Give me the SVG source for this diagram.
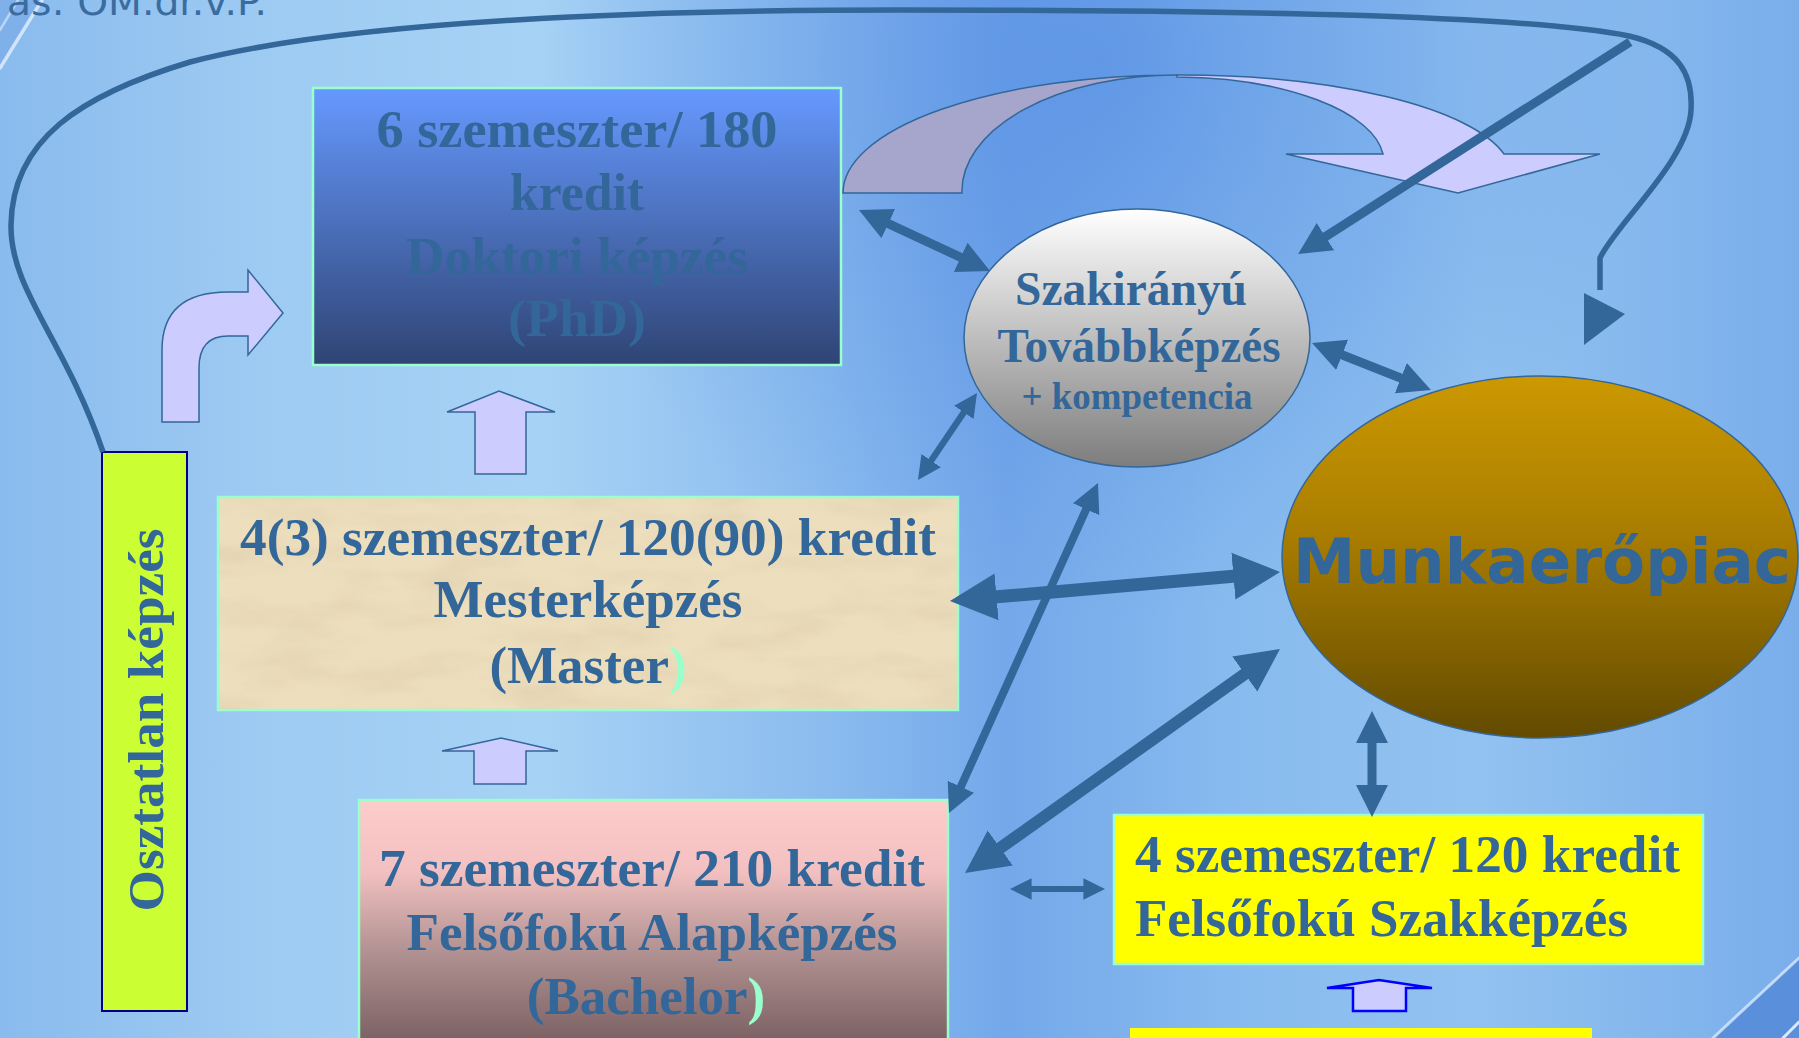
<svg xmlns="http://www.w3.org/2000/svg" width="1799" height="1038" viewBox="0 0 1799 1038">
<defs>
<linearGradient id="bg" x1="0" y1="0" x2="1" y2="0">
<stop offset="0" stop-color="#8abbee"/>
<stop offset="0.15" stop-color="#9ecbf2"/>
<stop offset="0.3" stop-color="#a6d2f5"/>
<stop offset="0.45" stop-color="#8dbdef"/>
<stop offset="0.56" stop-color="#74a8ea"/>
<stop offset="0.68" stop-color="#87baee"/>
<stop offset="0.82" stop-color="#92c2f0"/>
<stop offset="1" stop-color="#7aaeeb"/>
</linearGradient>
<radialGradient id="dark" cx="1100" cy="60" r="560" gradientUnits="userSpaceOnUse">
<stop offset="0" stop-color="#4f88e2" stop-opacity="0.6"/>
<stop offset="1" stop-color="#4f88e2" stop-opacity="0"/>
</radialGradient>
<linearGradient id="gPhd" x1="0" y1="0" x2="0" y2="1">
<stop offset="0" stop-color="#6699ff"/>
<stop offset="1" stop-color="#2f4474"/>
</linearGradient>
<linearGradient id="gBa" x1="0" y1="800" x2="0" y2="1040" gradientUnits="userSpaceOnUse">
<stop offset="0" stop-color="#ffcccc"/>
<stop offset="0.3" stop-color="#f2c0c0"/>
<stop offset="0.62" stop-color="#b39393"/>
<stop offset="1" stop-color="#7c6264"/>
</linearGradient>
<linearGradient id="gSz" x1="0" y1="0" x2="0" y2="1">
<stop offset="0" stop-color="#ffffff"/>
<stop offset="1" stop-color="#7d7d7d"/>
</linearGradient>
<linearGradient id="gMu" x1="0" y1="0" x2="0" y2="1">
<stop offset="0" stop-color="#cc9900"/>
<stop offset="0.45" stop-color="#a87c00"/>
<stop offset="1" stop-color="#624a00"/>
</linearGradient>
<filter id="parch" x="0" y="0" width="100%" height="100%">
<feTurbulence type="fractalNoise" baseFrequency="0.012 0.035" numOctaves="4" seed="7" result="n"/>
<feColorMatrix in="n" type="matrix" values="0 0 0 0 0.72  0 0 0 0 0.6  0 0 0 0 0.42  1.1 0 0 0 -0.42" result="c"/>
<feComposite in="c" in2="SourceGraphic" operator="in"/>
</filter>
<marker id="ah" viewBox="0 -2 4 4" markerWidth="4" markerHeight="4" refX="0.2" refY="0" orient="auto-start-reverse" markerUnits="strokeWidth">
<path d="M0,-1.8 L3.6,0 L0,1.8 Z" fill="#336699"/>
</marker>
<style>
.t{font-family:"Liberation Serif","Times New Roman",serif;font-weight:bold;fill:#336699;}
.box{stroke:#99ffcc;stroke-width:2.5;}
.blk{fill:#ccccff;stroke:#336699;stroke-width:1.5;stroke-linejoin:miter;}
.ar{fill:none;stroke:#336699;marker-start:url(#ah);marker-end:url(#ah);}
.mint{fill:#99ffcc;}
</style>
</defs>

<rect x="0" y="0" width="1799" height="1038" fill="url(#bg)"/>
<rect x="0" y="0" width="1799" height="1038" fill="url(#dark)"/>
<g id="decor" stroke-linecap="round">
<polygon points="0,0 42,0 0,68" fill="#7fb0ea"/>
<line x1="0" y1="68" x2="42" y2="0" stroke="#e8f4ff" stroke-opacity="0.75" stroke-width="3.5"/>
<line x1="0" y1="30" x2="18" y2="0" stroke="#e8f4ff" stroke-opacity="0.55" stroke-width="2.5"/>
<polygon points="1713,1038 1799,958 1799,1038" fill="#5a8fdc"/>
<line x1="1713" y1="1038" x2="1799" y2="958" stroke="#e8f4ff" stroke-opacity="0.7" stroke-width="3"/>
<line x1="1783" y1="1038" x2="1799" y2="1022" stroke="#ffffff" stroke-opacity="0.8" stroke-width="3"/>
</g>
<text x="7" y="15" font-family="DejaVu Sans, Verdana, sans-serif" font-size="38" fill="#3b6c9f" textLength="260" lengthAdjust="spacingAndGlyphs">as: OM.dr.v.P.</text>

<g id="phd">
<rect x="313" y="88" width="528" height="277" fill="url(#gPhd)" class="box"/>
<text class="t" font-size="53" text-anchor="middle" x="577" y="147" textLength="401" lengthAdjust="spacingAndGlyphs">6 szemeszter/ 180</text>
<text class="t" font-size="53" text-anchor="middle" x="577" y="210" textLength="134" lengthAdjust="spacingAndGlyphs">kredit</text>
<text class="t" font-size="53" text-anchor="middle" x="577" y="274" textLength="342" lengthAdjust="spacingAndGlyphs">Doktori képzés</text>
<text class="t" font-size="53" text-anchor="middle" x="577" y="336" textLength="138" lengthAdjust="spacingAndGlyphs">(PhD)</text>
</g>

<g id="master">
<rect x="218" y="497" width="740" height="213" fill="#eddfbd" class="box"/>
<rect x="219" y="498" width="738" height="211" fill="#eddfbd" filter="url(#parch)"/>
<text class="t" font-size="53" text-anchor="middle" x="588" y="555" textLength="696" lengthAdjust="spacingAndGlyphs">4(3) szemeszter/ 120(90) kredit</text>
<text class="t" font-size="53" text-anchor="middle" x="588" y="617" textLength="309" lengthAdjust="spacingAndGlyphs">Mesterképzés</text>
<text class="t" font-size="53" text-anchor="middle" x="588" y="683">(Master<tspan class="mint">)</tspan></text>
</g>

<g id="bachelor">
<rect x="359" y="800" width="589" height="250" fill="url(#gBa)" class="box"/>
<text class="t" font-size="53" text-anchor="middle" x="652" y="886" textLength="546" lengthAdjust="spacingAndGlyphs">7 szemeszter/ 210 kredit</text>
<text class="t" font-size="53" text-anchor="middle" x="652" y="950" textLength="491" lengthAdjust="spacingAndGlyphs">Felsőfokú Alapképzés</text>
<text class="t" font-size="53" text-anchor="middle" x="646" y="1014">(Bachelor<tspan class="mint">)</tspan></text>
</g>

<g id="osztatlan">
<rect x="102" y="452" width="85" height="559" fill="#ccff33" stroke="#000080" stroke-width="2"/>
<text class="t" font-size="50" text-anchor="middle" transform="translate(163,720) rotate(-90)" textLength="383" lengthAdjust="spacingAndGlyphs">Osztatlan képzés</text>
</g>

<g id="szakiranyu">
<ellipse cx="1137" cy="338" rx="173" ry="129" fill="url(#gSz)" stroke="#336699" stroke-width="1.5"/>
<text class="t" font-size="48" text-anchor="middle" x="1131" y="305" textLength="232" lengthAdjust="spacingAndGlyphs">Szakirányú</text>
<text class="t" font-size="48" text-anchor="middle" x="1139" y="362" textLength="283" lengthAdjust="spacingAndGlyphs">Továbbképzés</text>
<text class="t" font-size="38" text-anchor="middle" x="1137" y="409" textLength="231" lengthAdjust="spacingAndGlyphs">+ kompetencia</text>
</g>

<g id="munkaeropiac">
<ellipse cx="1540" cy="557" rx="258" ry="181" fill="url(#gMu)" stroke="#336699" stroke-width="1.5"/>
<text x="1293" y="583" font-family="DejaVu Sans, Verdana, sans-serif" font-weight="bold" font-size="62" fill="#336699" textLength="498" lengthAdjust="spacingAndGlyphs">Munkaerőpiac</text>
</g>

<g id="szakkepzes">
<rect x="1114" y="815" width="589" height="149" fill="#ffff00" class="box"/>
<text class="t" font-size="53" x="1135" y="872" textLength="545" lengthAdjust="spacingAndGlyphs">4 szemeszter/ 120 kredit</text>
<text class="t" font-size="53" x="1135" y="936" textLength="493" lengthAdjust="spacingAndGlyphs">Felsőfokú Szakképzés</text>
</g>

<g id="bottom-box">
<rect x="1130" y="1028" width="462" height="20" fill="#ffff00"/>
</g>

<g id="connectors">
<path d="M103,452 C65,340 10,290 11,225 C12,140 80,95 190,62 C350,20 650,10 900,10 C1200,10 1520,14 1629,36 C1680,48 1693,75 1691,110 C1689,160 1615,225 1600,258 L1600,290" fill="none" stroke="#336699" stroke-width="5.5"/>
<polygon points="1584,293 1625,314 1584,345" fill="#336699"/>
<path class="blk" style="fill:#a6a6cc" d="M843,193 A334,118 0 0 1 1177,75 A215,116 0 0 0 962,193 Z"/>
<path class="blk" d="M1177,75 A330,100 0 0 1 1504,154 L1600,154 L1458,193 L1286,154 L1383,154 A210,85 0 0 0 1177,77 Z"/>
<path class="blk" d="M162,422 L162,350 Q162,292 228,292 L248,292 L248,270 L283,313 L248,355 L248,336 L228,336 Q199,336 199,368 L199,422 Z"/>
<path class="blk" d="M475,474 L475,412 L447,412 L499,391 L555,412 L526,412 L526,474 Z"/>
<path class="blk" d="M474,784 L474,751 L442,751 L501,738 L558,751 L526,751 L526,784 Z"/>
<path class="blk" style="stroke:#0000ff;stroke-width:2.5" d="M1353,1011 L1353,988 L1327,988 L1379,980 L1432,988 L1406,988 L1406,1011 Z"/>
<line x1="1630" y1="42" x2="1323.9" y2="237.6" stroke="#336699" stroke-width="9" marker-end="url(#ah)"/>
<line class="ar" x1="886.7" y1="222.9" x2="962.3" y2="258.1" stroke-width="9"/>
<line class="ar" x1="1340.5" y1="354.2" x2="1402.5" y2="378.8" stroke-width="9"/>
<line class="ar" x1="964.6" y1="411.3" x2="930.4" y2="461.7" stroke-width="6.5"/>
<line class="ar" x1="1086.8" y1="507.8" x2="960.2" y2="788.2" stroke-width="8"/>
<line class="ar" x1="994" y1="597.1" x2="1236" y2="575.9" stroke-width="13"/>
<line class="ar" x1="1246.7" y1="672.6" x2="998.3" y2="849.4" stroke-width="12"/>
<line class="ar" x1="1372" y1="741.6" x2="1372" y2="786.4" stroke-width="9"/>
<line class="ar" x1="1030.4" y1="889" x2="1084.6" y2="889" stroke-width="6"/>
</g>
</svg>
